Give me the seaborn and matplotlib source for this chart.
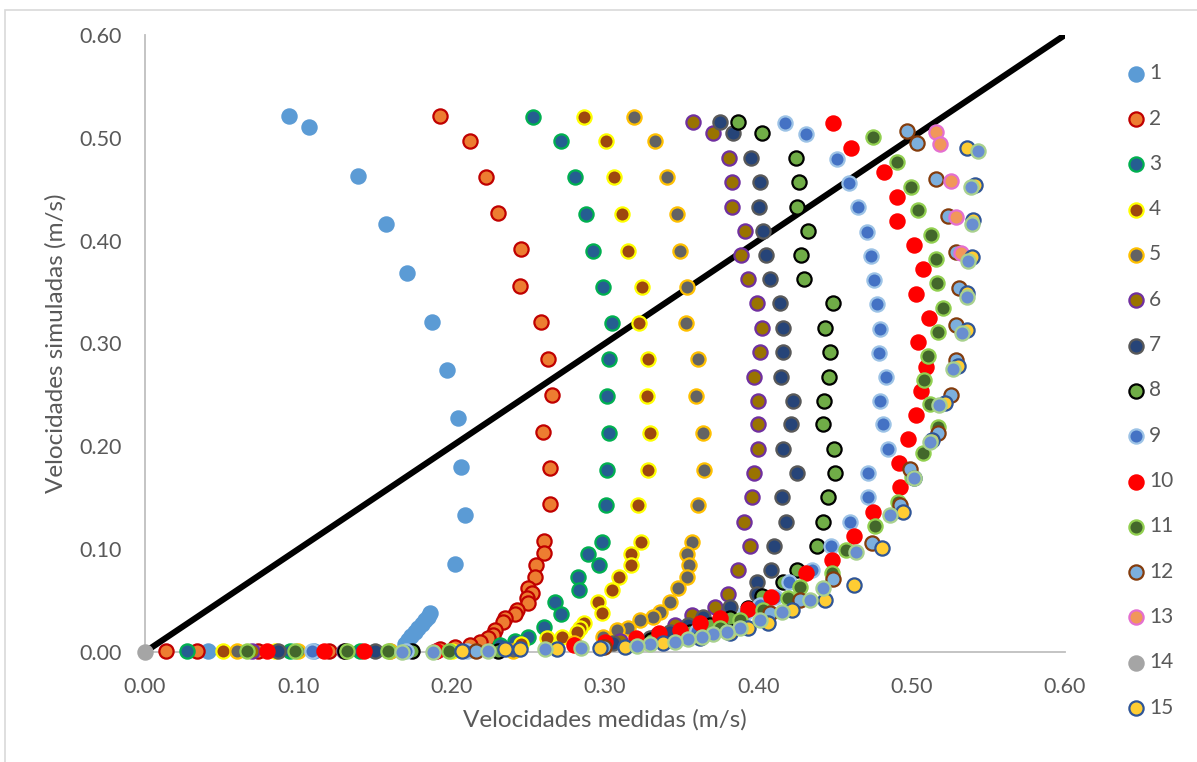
import matplotlib
matplotlib.use("Agg")
import matplotlib.pyplot as plt
import seaborn as sns
from matplotlib.patches import Rectangle

# ---- measured vs simulated velocities (m/s), one profile per series ----
x1 = [0.0939, 0.1070, 0.1389, 0.1572, 0.1709, 0.1872, 0.1970, 0.2041, 0.2061, 0.2087, 0.2022,
      0.1859, 0.1846, 0.1826, 0.1807, 0.1780, 0.1761, 0.1735, 0.1715, 0.1696, 0.041, 0.110, 0.160]
y1 = [0.5212, 0.5106, 0.4629, 0.4162, 0.3686, 0.3209, 0.2742, 0.2276, 0.1799, 0.1332, 0.0856,
      0.0379, 0.0340, 0.0310, 0.0270, 0.0230, 0.0190, 0.0160, 0.0120, 0.0080, 0.001, 0.001, 0.001]

x2 = [0.1924, 0.2120, 0.2224, 0.2302, 0.2452, 0.2446, 0.2583, 0.2628, 0.2654, 0.2596, 0.2641,
      0.2641, 0.2602, 0.2602, 0.2550, 0.2543, 0.2498, 0.2524, 0.2491, 0.2498, 0.2426, 0.2413,
      0.2348, 0.2335, 0.2283, 0.2270, 0.2237, 0.2185, 0.2120, 0.2022, 0.1924, 0.0137, 0.0339,
      0.0737, 0.1200]
y2 = [0.5212, 0.4969, 0.4619, 0.4269, 0.3919, 0.3559, 0.3209, 0.2849, 0.2499, 0.2139, 0.1789,
      0.1439, 0.1079, 0.0963, 0.0846, 0.0729, 0.0622, 0.0574, 0.0525, 0.0477, 0.0408, 0.0370,
      0.0331, 0.0292, 0.0214, 0.0165, 0.0136, 0.0097, 0.0068, 0.0049, 0.0029, 0.001, 0.001,
      0.001, 0.001]

x3 = [0.2530, 0.2713, 0.2804, 0.2876, 0.2922, 0.2987, 0.3046, 0.3026, 0.3013, 0.3026, 0.3013,
      0.3007, 0.2980, 0.2889, 0.2961, 0.2824, 0.2830, 0.2674, 0.2713, 0.2602, 0.2498, 0.2413,
      0.2315, 0.0274, 0.0946, 0.1400]
y3 = [0.5203, 0.4969, 0.4619, 0.4259, 0.3900, 0.3550, 0.3199, 0.2849, 0.2490, 0.2130, 0.1770,
      0.1430, 0.1070, 0.0953, 0.0846, 0.0729, 0.0603, 0.0486, 0.0370, 0.0243, 0.0146, 0.0107,
      0.0068, 0.001, 0.001, 0.001]

x4 = [0.2863, 0.3007, 0.3059, 0.3111, 0.3150, 0.3241, 0.3222, 0.3280, 0.3274, 0.3294, 0.3280,
      0.3215, 0.3235, 0.3170, 0.3170, 0.3091, 0.3046, 0.2954, 0.2980, 0.2863, 0.2837, 0.2817,
      0.2720, 0.2622, 0.2450, 0.0509, 0.0850, 0.1300, 0.2000]
y4 = [0.5203, 0.4969, 0.4619, 0.4259, 0.3900, 0.3550, 0.3199, 0.2849, 0.2490, 0.2130, 0.1770,
      0.1430, 0.1070, 0.0953, 0.0846, 0.0729, 0.0603, 0.0486, 0.0379, 0.0282, 0.0233, 0.0194,
      0.0146, 0.0136, 0.0080, 0.001, 0.001, 0.001, 0.001]

x5 = [0.3189, 0.3326, 0.3404, 0.3470, 0.3489, 0.3535, 0.3528, 0.3607, 0.3594, 0.3639, 0.3646,
      0.3607, 0.3567, 0.3535, 0.3548, 0.3535, 0.3476, 0.3424, 0.3359, 0.3313, 0.3228, 0.3150,
      0.3078, 0.2987, 0.2800, 0.0600, 0.1000, 0.1600, 0.2400]
y5 = [0.5203, 0.4969, 0.4619, 0.4259, 0.3900, 0.3550, 0.3199, 0.2849, 0.2490, 0.2130, 0.1770,
      0.1430, 0.1070, 0.0953, 0.0846, 0.0729, 0.0622, 0.0486, 0.0389, 0.0340, 0.0311, 0.0233,
      0.0214, 0.0146, 0.0090, 0.001, 0.001, 0.001, 0.001]

x6 = [0.3574, 0.3704, 0.3809, 0.3828, 0.3828, 0.3913, 0.3887, 0.3933, 0.3991, 0.4024, 0.4011,
      0.3972, 0.3998, 0.3998, 0.3998, 0.3972, 0.3959, 0.3907, 0.3946, 0.3867, 0.3802, 0.3717,
      0.3567, 0.3457, 0.3339, 0.3100, 0.0700, 0.1300, 0.1900]
y6 = [0.5154, 0.5047, 0.4804, 0.4571, 0.4328, 0.4094, 0.3861, 0.3627, 0.3394, 0.3151, 0.2917,
      0.2674, 0.2441, 0.2217, 0.1974, 0.1741, 0.1507, 0.1264, 0.1031, 0.0797, 0.0564, 0.0437,
      0.0360, 0.0263, 0.0165, 0.0110, 0.001, 0.001, 0.001]

x7 = [0.3750, 0.3835, 0.3952, 0.4011, 0.4004, 0.4030, 0.4050, 0.4076, 0.4141, 0.4161, 0.4161,
      0.4148, 0.4226, 0.4213, 0.4161, 0.4252, 0.4154, 0.4180, 0.4102, 0.4083, 0.3991, 0.3991,
      0.3815, 0.3639, 0.3541, 0.3424, 0.3294, 0.3050, 0.0867, 0.1500]
y7 = [0.5154, 0.5047, 0.4804, 0.4571, 0.4328, 0.4094, 0.3861, 0.3627, 0.3394, 0.3151, 0.2917,
      0.2674, 0.2441, 0.2217, 0.1974, 0.1741, 0.1507, 0.1264, 0.1031, 0.0797, 0.0681, 0.0564,
      0.0437, 0.0340, 0.0263, 0.0194, 0.0136, 0.0090, 0.001, 0.001]

x8 = [0.3867, 0.4024, 0.4246, 0.4265, 0.4252, 0.4324, 0.4278, 0.4298, 0.4487, 0.4435, 0.4467,
      0.4461, 0.4428, 0.4422, 0.4494, 0.4500, 0.4454, 0.4422, 0.4383, 0.4252, 0.4161, 0.4024,
      0.3933, 0.3815, 0.3685, 0.3554, 0.3300, 0.1305, 0.1740, 0.2300]
y8 = [0.5154, 0.5047, 0.4804, 0.4571, 0.4328, 0.4094, 0.3861, 0.3627, 0.3394, 0.3151, 0.2917,
      0.2674, 0.2441, 0.2217, 0.1974, 0.1741, 0.1507, 0.1264, 0.1031, 0.0797, 0.0681, 0.0545,
      0.0428, 0.0331, 0.0263, 0.0194, 0.0120, 0.001, 0.001, 0.001]

x9 = [0.4174, 0.4311, 0.4513, 0.4591, 0.4650, 0.4709, 0.4735, 0.4754, 0.4774, 0.4794, 0.4787,
      0.4833, 0.4794, 0.4813, 0.4846, 0.4715, 0.4715, 0.4598, 0.4474, 0.4350, 0.4200, 0.4109,
      0.4011, 0.3913, 0.3600, 0.1090, 0.1700, 0.2100]
y9 = [0.5144, 0.5037, 0.4794, 0.4561, 0.4328, 0.4084, 0.3851, 0.3618, 0.3384, 0.3141, 0.2908,
      0.2674, 0.2441, 0.2217, 0.1974, 0.1741, 0.1507, 0.1264, 0.1031, 0.0797, 0.0681, 0.0535,
      0.0457, 0.0379, 0.0200, 0.001, 0.001, 0.001]

x10 = [0.4487, 0.4604, 0.4820, 0.4904, 0.4904, 0.5015, 0.5074, 0.5028, 0.5113, 0.5041, 0.5094,
       0.5061, 0.5028, 0.4976, 0.4917, 0.4924, 0.4748, 0.4624, 0.4481, 0.4311, 0.4083, 0.3933,
       0.3750, 0.3620, 0.3489, 0.3350, 0.3200, 0.3000, 0.2800, 0.0796, 0.1168, 0.1429, 0.1900]
y10 = [0.5144, 0.4901, 0.4668, 0.4425, 0.4191, 0.3958, 0.3725, 0.3481, 0.3248, 0.3015, 0.2772,
       0.2538, 0.2305, 0.2071, 0.1838, 0.1605, 0.1361, 0.1128, 0.0895, 0.0768, 0.0535, 0.0418,
       0.0331, 0.0282, 0.0214, 0.0180, 0.0140, 0.0100, 0.0070, 0.001, 0.001, 0.001, 0.001]

x11 = [0.4748, 0.4904, 0.4996, 0.5041, 0.5126, 0.5159, 0.5165, 0.5204, 0.5172, 0.5107, 0.5081,
       0.5120, 0.5172, 0.5074, 0.5002, 0.4911, 0.4761, 0.4572, 0.4481, 0.4272, 0.4194, 0.4031,
       0.3880, 0.3750, 0.0665, 0.0978, 0.1317, 0.1585, 0.1980]
y11 = [0.5008, 0.4765, 0.4522, 0.4298, 0.4055, 0.3822, 0.3588, 0.3345, 0.3112, 0.2879, 0.2645,
       0.2412, 0.2188, 0.1935, 0.1702, 0.1459, 0.1225, 0.0992, 0.0768, 0.0632, 0.0525, 0.0408,
       0.0311, 0.0233, 0.001, 0.001, 0.001, 0.001, 0.001]

x12 = [0.4970, 0.5035, 0.5159, 0.5237, 0.5289, 0.5309, 0.5289, 0.5289, 0.5257, 0.5172, 0.4989,
       0.4924, 0.4741, 0.4487, 0.4272, 0.4076, 0.2993, 0.2159]
y12 = [0.5067, 0.4950, 0.4600, 0.4240, 0.3890, 0.3540, 0.3180, 0.2840, 0.2499, 0.2130, 0.1780,
       0.1430, 0.1060, 0.0710, 0.0506, 0.0379, 0.0050, 0.001]

x13 = [0.5159, 0.5185, 0.5257, 0.5289, 0.5322]
y13 = [0.5057, 0.4940, 0.4580, 0.4230, 0.3880]

x14 = [0.0]
y14 = [0.0]

x15 = [0.5361, 0.5413, 0.5400, 0.5394, 0.5361, 0.5361, 0.5302, 0.5217, 0.5133, 0.5015, 0.4944,
       0.4807, 0.4624, 0.4435, 0.4220, 0.4063, 0.3933, 0.3815, 0.3620, 0.3378, 0.3131, 0.2967,
       0.2687, 0.2446, 0.2348, 0.2067]
y15 = [0.4901, 0.4542, 0.4201, 0.3841, 0.3491, 0.3131, 0.2781, 0.2421, 0.2062, 0.1692, 0.1361,
       0.1011, 0.0652, 0.0506, 0.0408, 0.0282, 0.0233, 0.0185, 0.0136, 0.0088, 0.0049, 0.0039,
       0.0029, 0.0029, 0.0029, 0.0010]

x16 = [0.5433, 0.5387, 0.5394, 0.5368, 0.5361, 0.5328, 0.5270, 0.5178, 0.5120, 0.5015, 0.4859,
       0.4637, 0.4422, 0.4337, 0.4154, 0.4011, 0.3880, 0.3796, 0.3704, 0.3633, 0.3541, 0.3457,
       0.3294, 0.3209, 0.2844, 0.2609, 0.2237, 0.1878, 0.1676]
y16 = [0.4872, 0.4522, 0.4162, 0.3802, 0.3452, 0.3102, 0.2752, 0.2402, 0.2042, 0.1692, 0.1332,
       0.0972, 0.0622, 0.0506, 0.0389, 0.0311, 0.0233, 0.0194, 0.0175, 0.0146, 0.0126, 0.0097,
       0.0078, 0.0058, 0.0039, 0.0029, 0.0010, 0.0000, 0.0000]

series_x = [x1, x2, x3, x4, x5, x6, x7, x8, x9, x10, x11, x12, x13, x14, x15, x16]
series_y = [y1, y2, y3, y4, y5, y6, y7, y8, y9, y10, y11, y12, y13, y14, y15, y16]
labels = ["1", "2", "3", "4", "5", "6", "7", "8", "9", "10", "11", "12", "13", "14", "15", "_16"]

fills = ["#5B9BD5", "#ED7D31", "#255E91", "#9E480E", "#636363", "#997300", "#264478", "#70AD47",
         "#4472C4", "#FF0000", "#43682B", "#7CAFDD", "#F1975A", "#A5A5A5", "#FFCD33", "#698ED0"]
edges = ["#5B9BD5", "#C00000", "#00B050", "#FFFF00", "#FFC000", "#7030A0", "#595959", "#000000",
         "#9DC3E6", "#FF0000", "#92D050", "#843C0C", "#E46FD0", "#A5A5A5", "#2F5597", "#A9D18E"]

# 1:1 reference line
diag_x = [0.0, 0.6]
diag_y = [0.0, 0.6]

sns.set_theme(style="white")
plt.rcParams["font.family"] = ["Lato", "DejaVu Sans"]

fig = plt.figure(figsize=(11.97, 7.62), dpi=100)
ax = fig.add_axes([0.1211, 0.1444, 0.7686, 0.8097])

sns.lineplot(x=diag_x, y=diag_y, ax=ax, color="black", linewidth=4.4, zorder=1,
             legend=False)

for xs, ys, lab, fc, ec in zip(series_x, series_y, labels, fills, edges):
    sns.scatterplot(x=xs, y=ys, ax=ax, s=105, color=fc, edgecolor=ec, linewidth=1.6,
                    label=lab, zorder=3, clip_on=False)

ax.set_xlim(0, 0.6)
ax.set_ylim(0, 0.6)
ticks = [0.0, 0.1, 0.2, 0.3, 0.4, 0.5, 0.6]
ax.set_xticks(ticks)
ax.set_yticks(ticks)
ax.set_xticklabels([f"{t:.2f}" for t in ticks])
ax.set_yticklabels([f"{t:.2f}" for t in ticks])
ax.tick_params(axis="both", colors="#595959", labelsize=15.5, length=0)
ax.tick_params(axis="x", pad=18)
ax.tick_params(axis="y", pad=16.5)

for side in ["top", "right"]:
    ax.spines[side].set_visible(False)
for side in ["left", "bottom"]:
    ax.spines[side].set_color("#BFBFBF")
    ax.spines[side].set_linewidth(1.3)

ax.set_xlabel("Velocidades medidas (m/s)", fontsize=17.5, color="#595959", labelpad=9)
ax.set_ylabel("Velocidades simuladas (m/s)", fontsize=17.5, color="#595959", labelpad=9)

leg = ax.legend(loc="upper left", bbox_to_anchor=(0.9334, 0.928),
                bbox_transform=fig.transFigure, frameon=False, fontsize=15,
                labelspacing=1.215, handlelength=1.0, handletextpad=0.125,
                borderaxespad=0.0, markerscale=1.0)
for t in leg.get_texts():
    t.set_color("#595959")

# chart frame
fig.patches.append(Rectangle((5 / 1197, -0.01), 1.1, (752 / 762) + 0.01,
                             transform=fig.transFigure, fill=False,
                             edgecolor="#D9D9D9", linewidth=1.2))

fig.savefig("out.png", dpi=100)
